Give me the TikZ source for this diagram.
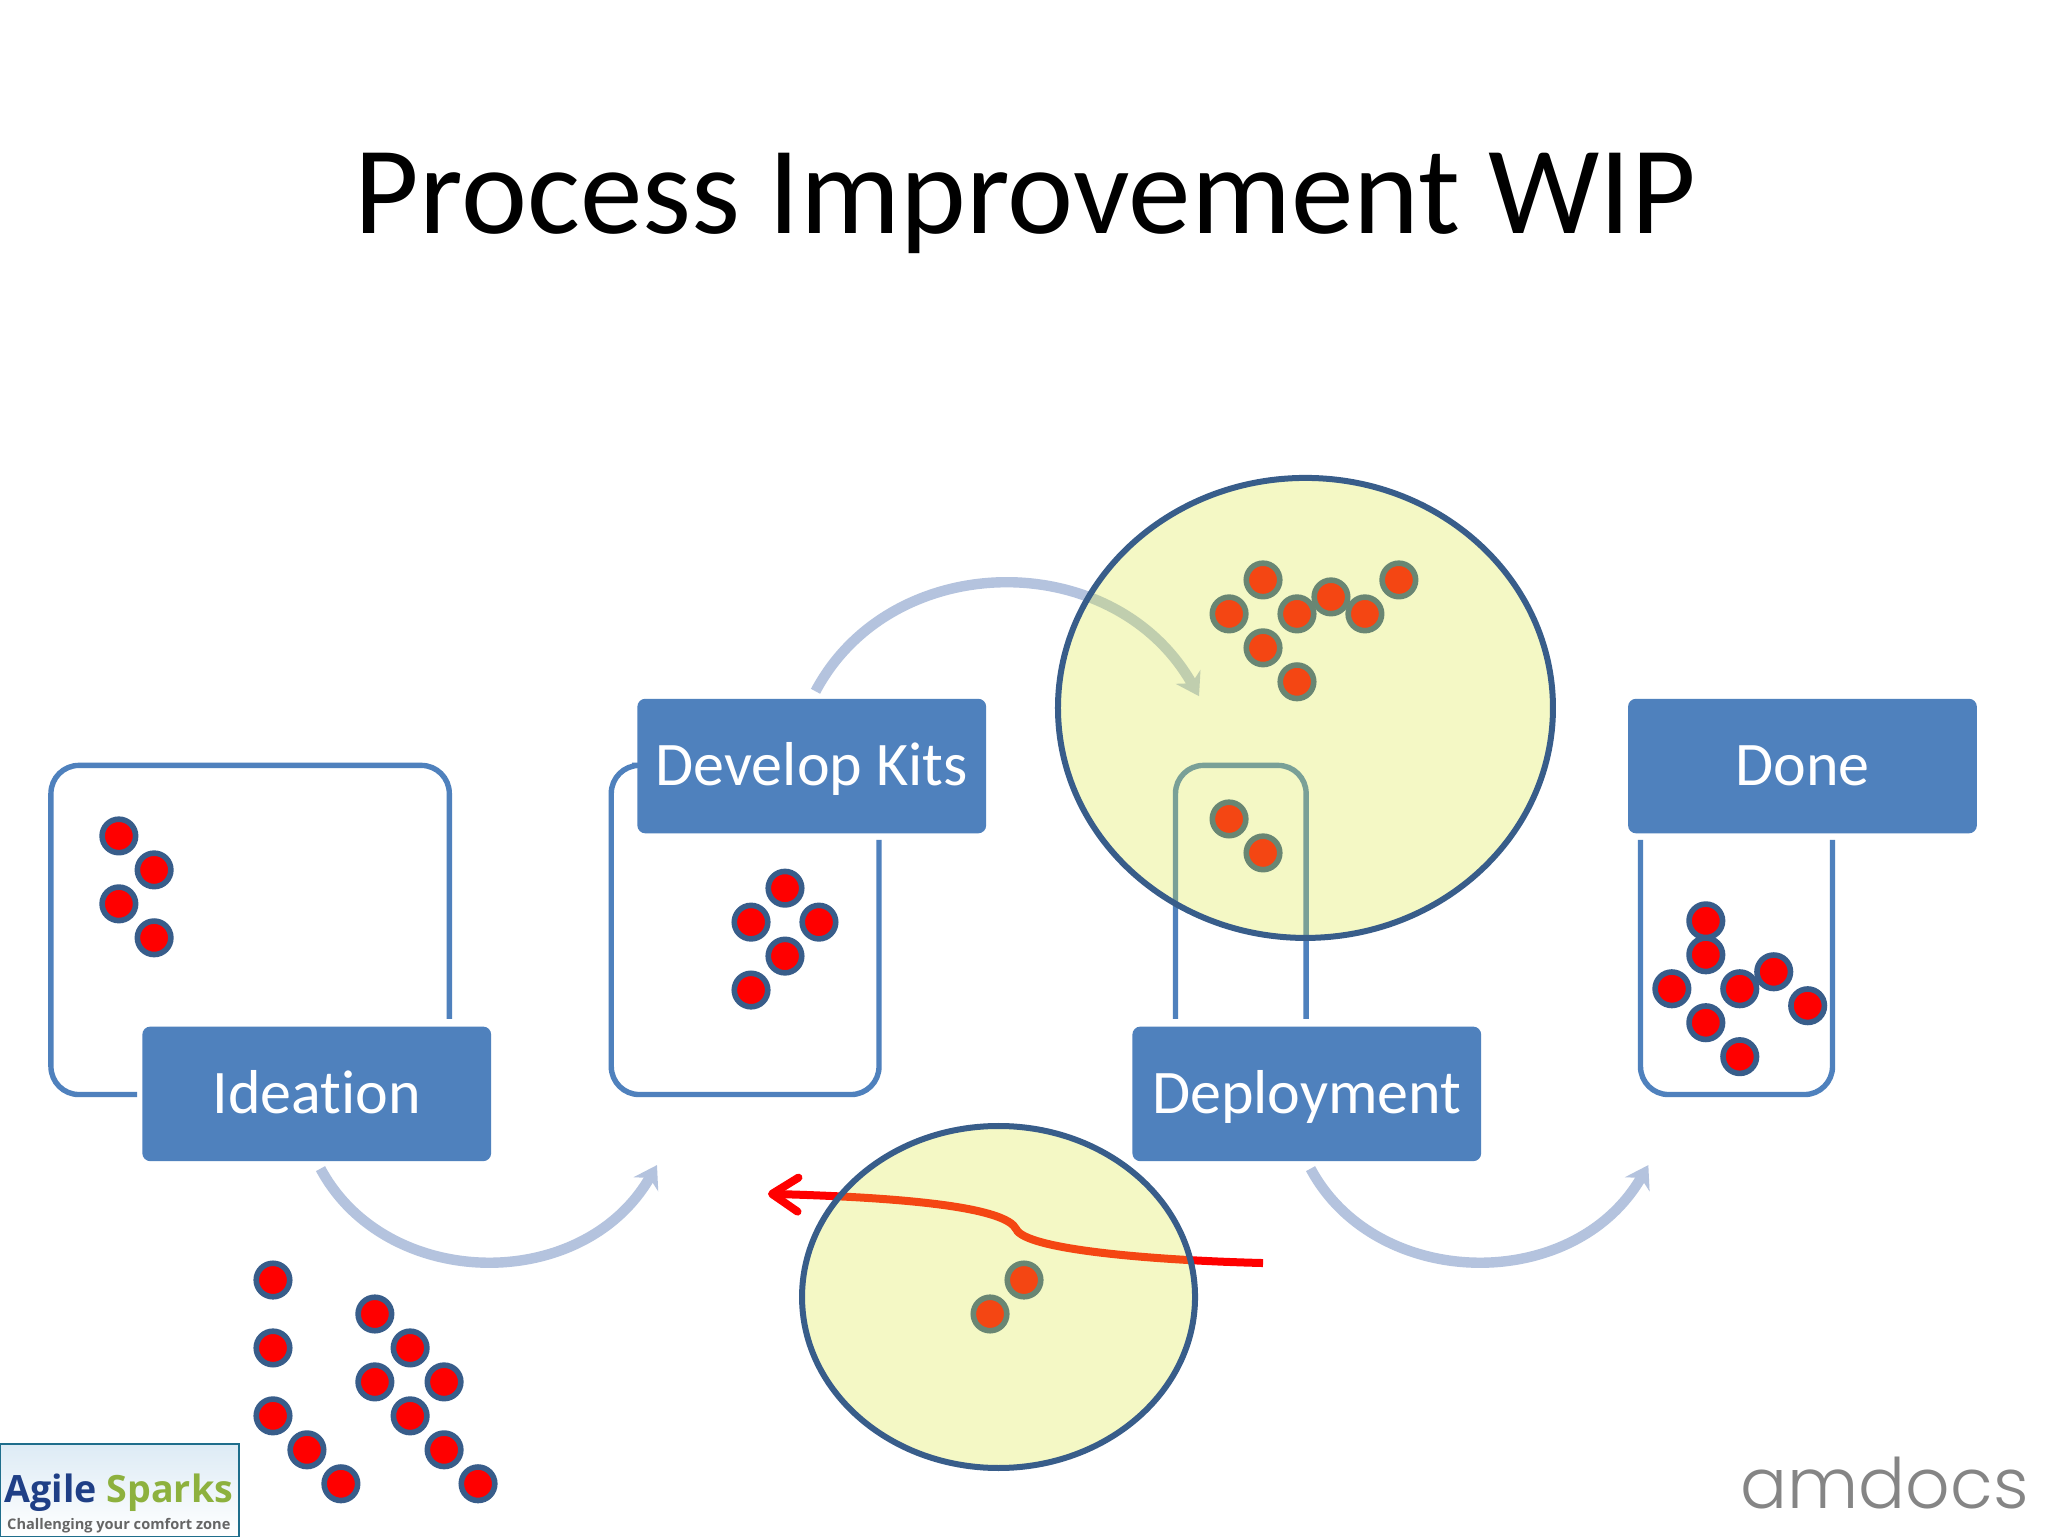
\documentclass[tikz,border=0pt]{standalone}
\usepackage{fontspec}
\setmainfont[Ligatures=NoCommon]{Carlito}
\newfontfamily\logofont{Open Sans}
\newfontfamily\amdocsfont{Poppins Light}
\usepackage{xcolor}
\usepackage{tikz}
\usetikzlibrary{positioning,arrows.meta,shapes.geometric}
\definecolor{stagefill}{HTML}{4F81BD}
\definecolor{binline}{HTML}{4F81BD}
\definecolor{dotline}{HTML}{385D8A}
\definecolor{flowline}{HTML}{B4C3DE}
\definecolor{lensfill}{HTML}{DCE840}
\definecolor{agileblue}{HTML}{1F3F86}
\definecolor{agilegreen}{HTML}{8DB13E}
\definecolor{logoframe}{HTML}{1F6E8C}
\definecolor{logosky}{HTML}{DDEBF5}
\tikzset{
  stagebox/.style={fill=stagefill,text=white,rounded corners=4pt,inner sep=0pt,
    minimum width=174.4pt,minimum height=67.3pt,text height=24pt,text depth=4.4pt,
    font=\fontsize{31}{35}\selectfont},
  binpath/.style={draw=binline,line width=2.7pt,rounded corners=14pt},
  wipdot/.style={circle,draw=dotline,fill=red,line width=2.8pt,inner sep=0pt,minimum size=16.75pt},
  lens/.style={ellipse,draw=dotline,line width=3pt,fill=lensfill,fill opacity=0.3,draw opacity=1,inner sep=0pt},
  flowarrow/.style={draw=flowline,line width=5.2pt,-{Stealth[length=11pt,width=14pt]}}
}
\begin{document}
\begin{tikzpicture}[x=0.65306pt,y=-0.65306pt]
  \path[fill=white,use as bounding box] (0,0) rectangle (1568,1176);

  \node[font=\fontsize{62.6}{70}\selectfont] (title) at (785,156) {Process Improvement WIP};

  \path[binpath] (105,838) -- (39,838) -- (39,586) -- (344,586) -- (344,780);
  \path[binpath] (484,586) -- (468,586) -- (468,838) -- (673,838) -- (673,643);
  \path[binpath] (900,780) -- (900,586) -- (1000,586) -- (1000,780);
  \path[binpath] (1256,643) -- (1256,838) -- (1403,838) -- (1403,643);

  \foreach \dotx/\doty [count=\i] in {91/640,118/666,91/692,118/718,
      209/980,209/1032,209/1084,235/1110,261/1136,287/1006,314/1032,340/1058,
      287/1058,314/1084,340/1110,366/1136}
    \node[wipdot] (ideadot\i) at (\dotx,\doty) {};
  \foreach \dotx/\doty [count=\i] in {601/680,575/706,627/706,601/732,575/758}
    \node[wipdot] (kitdot\i) at (\dotx,\doty) {};
  \foreach \dotx/\doty [count=\i] in {967/444,941/470,993/470,1045/470,1019/457,1071/444,
      967/496,993/522,941/627,967/653,784/980,758/1006}
    \node[wipdot] (deploydot\i) at (\dotx,\doty) {};
  \foreach \dotx/\doty [count=\i] in {1306/705,1306/731,1280/757,1332/757,1358/744,
      1384/770,1306/783,1332/809}
    \node[wipdot] (donedot\i) at (\dotx,\doty) {};

  \node[stagebox] (ideation) at (242.5,837.5) {Ideation};
  \node[stagebox] (kits) at (621.5,586.5) {Develop Kits};
  \node[stagebox] (deployment) at (1000.5,837.5) {Deployment};
  \node[stagebox] (done) at (1380,586.5) {Done};

  \coordinate (kitsin) at (503,892);
  \coordinate (deployin) at (918,533);
  \coordinate (donein) at (1262,892);
  \draw[flowarrow,shorten <=4pt] (ideation.south) .. controls +(53,99) and +(-57,99) .. (kitsin);
  \draw[flowarrow,shorten <=4pt] (kits.north) .. controls +(61,-115) and +(-65,-115) .. (deployin);
  \draw[flowarrow,shorten <=4pt] (deployment.south) .. controls +(53,99) and +(-57,99) .. (donein);

  \coordinate (reworkstart) at (967,967);
  \coordinate (reworkend) at (588,914);
  \draw[red,line width=4pt,-{Straight Barb[length=13pt,width=17pt,round]}]
    (reworkstart) .. controls (885,965) and (785,957) .. (778,941)
    .. controls (770,925) and (700,917) .. (reworkend);

  \node[lens,minimum width=247.5pt,minimum height=230pt] (biglens) at (999.5,542) {};
  \node[lens,minimum width=196.5pt,minimum height=171pt] (smalllens) at (764.5,993) {};

  \node[draw=logoframe,line width=1pt,top color=logosky,bottom color=white,inner sep=0pt,
        minimum width=119.5pt,minimum height=46.5pt] (logobox) at (91.5,1141) {};
  \node[font=\logofont\bfseries\fontsize{18.8}{20}\selectfont,inner sep=0pt,anchor=base] (logoname) at (91,1150)
    {\textcolor{agileblue}{Agile} \textcolor{agilegreen}{Sparks}};
  \node[font=\logofont\bfseries\fontsize{7.3}{8}\selectfont,text=black!60,inner sep=0pt,anchor=base] (logotag) at (91,1171)
    {Challenging your comfort zone};
  \node[font=\amdocsfont\fontsize{34.8}{40}\selectfont,text=black!48,inner sep=0pt,anchor=base] (amdocs) at (1443,1155) {amdocs};
\end{tikzpicture}
\end{document}
